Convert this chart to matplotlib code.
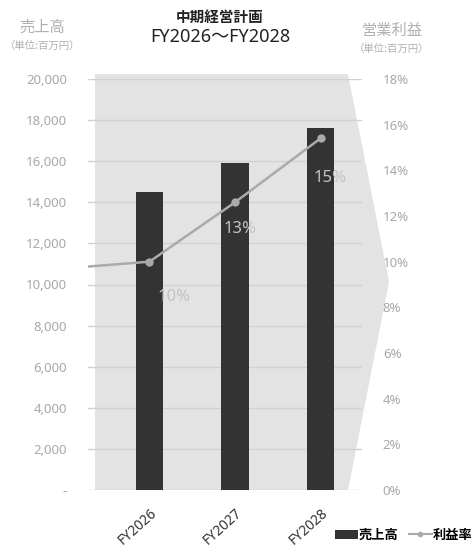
import matplotlib
matplotlib.use('Agg')
import matplotlib.pyplot as plt
from matplotlib.patches import Polygon, Patch
from matplotlib.lines import Line2D

plt.rcParams['font.family'] = ['Noto Sans CJK JP', 'DejaVu Sans']
NUM = ['Noto Sans', 'Noto Sans CJK JP']

# データ
years = ['FY2026', 'FY2027', 'FY2028']
sales = [14500, 15900, 17600]          # 売上高（百万円）
margin_prev = 9.7                       # FY2025（左端から伸びる線）
margin = [10.0, 12.6, 15.4]             # 利益率（%）
margin_labels = ['10%', '13%', '15%']
left_ticks = list(range(0, 20001, 2000))
right_ticks = list(range(0, 19, 2))

fig = plt.figure(figsize=(4.73, 5.52), dpi=100)
ax = fig.add_axes([88 / 473, 1 - 490 / 552, (362 - 88) / 473, (490 - 79) / 552])
ax2 = ax.twinx()

x = list(range(len(years)))
ax.set_xlim(-0.719, 2.485)
ax.set_ylim(0, 20000)
ax2.set_ylim(0, 18)

# 背景の矢印形
px = lambda v: (v - 149.5) / 85.5
py = lambda v: (490 - v) / 411 * 20000
bg = Polygon([(px(95), py(74)), (px(348), py(74)), (px(389), py(282)),
              (px(348), py(490)), (px(95), py(490))],
             closed=True, facecolor='#e3e3e3', edgecolor='none',
             clip_on=False, zorder=0)
ax.add_patch(bg)

for t in left_ticks:
    ax.axhline(t, color='#d2d2d2', lw=1.0, zorder=1)

ax.bar(x, sales, width=0.316, color='#333333', zorder=2)

ax2.plot([-1] + x, [margin_prev] + margin, color='#aaaaaa', lw=1.8,
         marker='o', markersize=5, markevery=[1, 2, 3], zorder=3)
offsets = [(25, -35), (5, -27), (10, -40)]
for xi, m, lab, off in zip(x, margin, margin_labels, offsets):
    ax2.annotate(lab, (xi, m), xytext=off, textcoords='offset pixels',
                 ha='center', va='center', fontsize=12, color='#c4c4c4',
                 family=NUM)

for a in (ax, ax2):
    for s in a.spines.values():
        s.set_visible(False)
    a.tick_params(length=0)

ax.set_yticks(left_ticks)
ax.set_yticklabels(['-' if t == 0 else f'{t:,}' for t in left_ticks],
                   fontsize=9.5, color='#a8a8a8', family=NUM)
ax.tick_params(axis='y', pad=15)
ax2.set_yticks(right_ticks)
ax2.set_yticklabels([f'{t}%' for t in right_ticks], fontsize=9.5,
                    color='#a8a8a8', family=NUM)
ax2.tick_params(axis='y', pad=15)

ax.set_xticks(x)
ax.set_xticklabels(years, rotation=42, ha='right', rotation_mode='anchor',
                   fontsize=10, color='#333333', family=NUM, fontweight='medium')
ax.tick_params(axis='x', pad=11)

# タイトル・単位
fig.text(220 / 473, 1 - 17 / 552, '中期経営計画', ha='center', va='center',
         fontsize=10.5, fontweight='bold', color='#222222')
fig.text(220 / 473, 1 - 37 / 552, 'FY2026～FY2028', ha='center', va='center',
         fontsize=13, color='#222222', family=NUM)
fig.text(42 / 473, 1 - 27 / 552, '売上高', ha='center', va='center',
         fontsize=11, color='#b0b0b0')
fig.text(43 / 473, 1 - 46 / 552, '（単位:百万円）', ha='center', va='center',
         fontsize=7.5, color='#b0b0b0')
fig.text(392 / 473, 1 - 30 / 552, '営業利益', ha='center', va='center',
         fontsize=11, color='#b0b0b0')
fig.text(392 / 473, 1 - 49 / 552, '（単位:百万円）', ha='center', va='center',
         fontsize=7.5, color='#b0b0b0')

handles = [Patch(facecolor='#333333', label='売上高'),
           Line2D([0], [0], color='#aaaaaa', marker='o', markersize=3, lw=1.5, label='利益率')]
fig.legend(handles=handles, loc='center', bbox_to_anchor=(404 / 473, 1 - 535 / 552),
           ncol=2, frameon=False, handlelength=1.7, handletextpad=0.1,
           columnspacing=0.8, prop={'weight': 'bold', 'size': 9.5})

fig.savefig('out.png', dpi=100)
